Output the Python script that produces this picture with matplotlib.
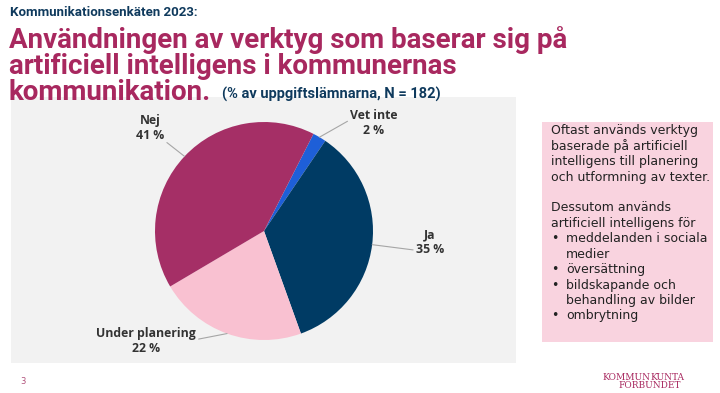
import matplotlib
matplotlib.use('Agg')
import matplotlib.pyplot as plt
import matplotlib.patches as patches
import numpy as np

# data
labels = ['Vet inte', 'Ja', 'Under planering', 'Nej']
values = [2, 35, 22, 41]
colors = ['#1E5FD8', '#003B64', '#F9C1D1', '#A52F66']

# label text positions (pixels in figure) and where the leader attaches on the text
label_pos = [(374, 123), (430, 242), (146, 341), (150, 128)]
label_rel = [(0, 0.62), (0, 0.2), (1, 0.55), (1, 0.05)]

box_lines = [
    'Oftast används verktyg',
    'baserade på artificiell',
    'intelligens till planering',
    'och utformning av texter.',
    '',
    'Dessutom används',
    'artificiell intelligens för',
    '•\tmeddelanden i sociala',
    '\tmedier',
    '•\töversättning',
    '•\tbildskapande och',
    '\tbehandling av bilder',
    '•\tombrytning',
]

W, H = 720, 393
title_font = 'Roboto'

fig = plt.figure(figsize=(W / 100, H / 100), dpi=100)
fig.patch.set_facecolor('white')


def fx(px):
    return px / W


def fy(py):
    return 1 - py / H


# titles
fig.text(fx(10), fy(13), 'Kommunikationsenkäten 2023:', fontsize=9.5, weight='bold',
         color='#0F3A5D', family=title_font, va='center')
title_lines = ['Användningen av verktyg som baserar sig på',
               'artificiell intelligens i kommunernas',
               'kommunikation.']
for i, line in enumerate(title_lines):
    fig.text(fx(9), fy(40 + i * 26), line, fontsize=20, weight='bold',
             color='#A8285F', family=title_font, va='center')
fig.text(fx(222), fy(94), '(% av uppgiftslämnarna, N = 182)', fontsize=10.5, weight='bold',
         color='#0F3A5D', family=title_font, va='center')

# gray panel
fig.patches.append(patches.Rectangle((fx(11), fy(363)), fx(516) - fx(11), fy(97) - fy(363),
                                     transform=fig.transFigure, facecolor='#F2F2F2',
                                     edgecolor='none', zorder=0))

# pink text box
fig.patches.append(patches.Rectangle((fx(542), fy(342)), fx(713) - fx(542), fy(122) - fy(342),
                                     transform=fig.transFigure, facecolor='#F9D3DF',
                                     edgecolor='none', zorder=0))
fs_box = 9.0
for i, line in enumerate(box_lines):
    if not line:
        continue
    y = fy(131 + i * 15.4)
    if line.startswith('•'):
        fig.text(fx(551), y, '•', fontsize=fs_box, color='#222222', va='center', family='DejaVu Sans')
        fig.text(fx(566), y, line.split('\t')[1], fontsize=fs_box, color='#222222', va='center',
                 family='DejaVu Sans')
    elif line.startswith('\t'):
        fig.text(fx(566), y, line[1:], fontsize=fs_box, color='#222222', va='center',
                 family='DejaVu Sans')
    else:
        fig.text(fx(551), y, line, fontsize=fs_box, color='#222222', va='center',
                 family='DejaVu Sans')

# pie
cx, cy, r = 264, 231, 109
ax = fig.add_axes([fx(cx - r), fy(cy + r), (2 * r) / W, (2 * r) / H])
ax.set_zorder(2)
wedges, _ = ax.pie(values, colors=colors, startangle=63, counterclock=False, radius=1,
                   wedgeprops=dict(linewidth=0))
ax.set_xlim(-1, 1)
ax.set_ylim(-1, 1)
ax.set_aspect('equal')
ax.axis('off')

for w, lab, v, (px, py), rel in zip(wedges, labels, values, label_pos, label_rel):
    ang = np.deg2rad((w.theta1 + w.theta2) / 2)
    x0, y0 = np.cos(ang), np.sin(ang)
    tx, ty = (px - cx) / r, (cy - py) / r
    ax.annotate(f'{lab}\n{v} %', xy=(x0, y0), xytext=(tx, ty), ha='center', va='center',
                fontsize=8.8, weight='bold', color='#333333', family='Open Sans',
                linespacing=1.15, annotation_clip=False,
                arrowprops=dict(arrowstyle='-', color='#A6A6A6', lw=0.8,
                                shrinkA=0, shrinkB=0, relpos=rel))

# footer
fig.text(fx(20), fy(382), '3', fontsize=6, color='#B0507A', va='center')
fig.text(fx(650), fy(377), 'KOMMUN', fontsize=6.5, color='#A8285F', family='DejaVu Serif',
         ha='right', va='center')
fig.text(fx(650), fy(377), 'KUNTA', fontsize=6.5, color='#A8285F', family='DejaVu Serif',
         ha='left', va='center')
fig.text(fx(650), fy(385), 'FÖRBUNDET', fontsize=6.5, color='#A8285F', family='DejaVu Serif',
         ha='center', va='center')

fig.savefig('out.png', dpi=100)
